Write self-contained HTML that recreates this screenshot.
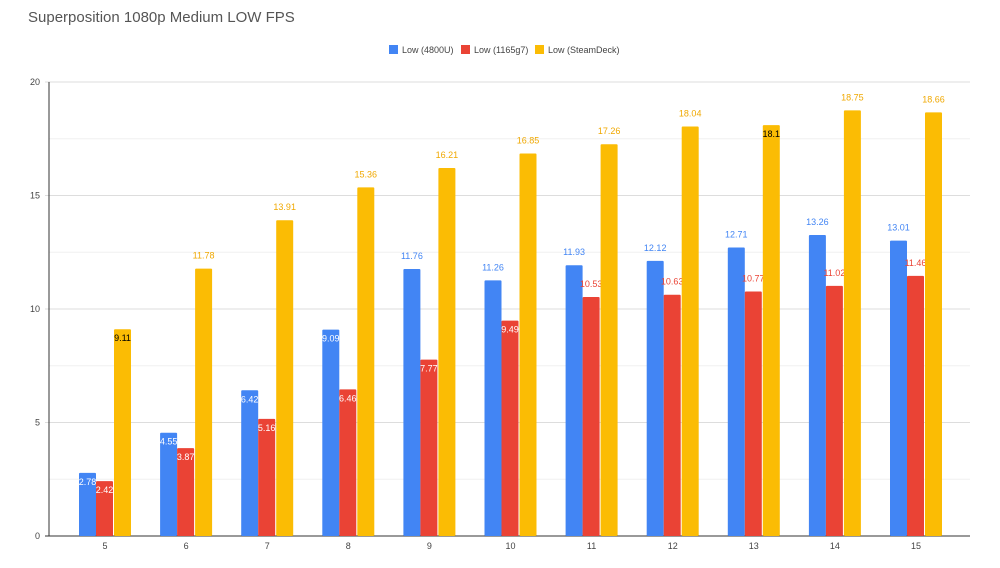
<!DOCTYPE html>
<html><head><meta charset="utf-8"><style>
body{margin:0;background:#fff;font-family:"Liberation Sans",sans-serif}
</style></head><body>
<svg id="c" width="1000" height="563" xmlns="http://www.w3.org/2000/svg" font-family="Liberation Sans, sans-serif">
<text x="28" y="22" font-size="15" fill="#555">Superposition 1080p Medium LOW FPS</text>
<g font-size="9" fill="#444">
<rect x="389" y="45" width="9" height="9" fill="#4285f4"/><text x="402" y="53">Low (4800U)</text>
<rect x="461" y="45" width="9" height="9" fill="#ea4335"/><text x="474" y="53">Low (1165g7)</text>
<rect x="535" y="45" width="9" height="9" fill="#fbbc04"/><text x="548" y="53">Low (SteamDeck)</text>
</g>
<g id="grid"></g><g id="bars"></g>
</svg>
<script>
const categories=["5","6","7","8","9","10","11","12","13","14","15"];
const s4800=[2.78,4.55,6.42,9.09,11.76,11.26,11.93,12.12,12.71,13.26,13.01];
const s1165=[2.42,3.87,5.16,6.46,7.77,9.49,10.53,10.63,10.77,11.02,11.46];
const sDeck=[9.11,11.78,13.91,15.36,16.21,16.85,17.26,18.04,18.1,18.75,18.66];
const yTicks=[0,5,10,15,20];
const NS="http://www.w3.org/2000/svg";
const y0=536,yTop=82,yMax=20,x0=105,step=81.1,bw=17;
const Y=v=>y0-(v/yMax)*(y0-yTop);
const X=i=>x0+i*step;
function mk(t,a,p){const e=document.createElementNS(NS,t);for(const k in a)e.setAttribute(k,a[k]);p.appendChild(e);return e;}
const g=document.getElementById('grid'),b=document.getElementById('bars');
for(let v=2.5;v<20;v+=5){const l=mk('line',{x1:49,x2:970,y1:Y(v),y2:Y(v),stroke:'#f0f0f0'},g);}
yTicks.forEach(v=>{const l=mk('line',{x1:45,x2:970,y1:Y(v),y2:Y(v),stroke:v==0?'#333':'#ddd'},g);
const t=mk('text',{x:40,y:Y(v)+3,'text-anchor':'end','font-size':9,fill:'#444'},g);t.textContent=v;});
const ax=mk('line',{x1:49,x2:49,y1:yTop,y2:y0,stroke:'#333'},g);
const series=[[s4800,'#4285f4',-26,'#4285f4'],[s1165,'#ea4335',-9,'#ea4335'],[sDeck,'#fbbc04',9,'#f0a800']];
categories.forEach((c,i)=>{const t=mk('text',{x:X(i),y:549,'text-anchor':'middle','font-size':9,fill:'#444'},g);t.textContent=c;});
series.forEach(([d,col,off,lc],si)=>{d.forEach((v,i)=>{
const x=X(i)+off,yt=Y(v);
const r=mk('rect',{x:x,y:yt,width:bw,height:y0-yt,fill:col,rx:1},b);
let inside=false,fc=lc;
if(si==0&&v<10){inside=true;fc='#fff';}
if(si==1&&v<10){inside=true;fc='#fff';}
if(si==2&&(i==0||i==8)){inside=true;fc='#000';}
const t=mk('text',{x:x+bw/2,y:inside?yt+12:yt-10,'text-anchor':'middle','font-size':9,fill:fc},b);t.textContent=v;
});});
</script>
</body></html>
